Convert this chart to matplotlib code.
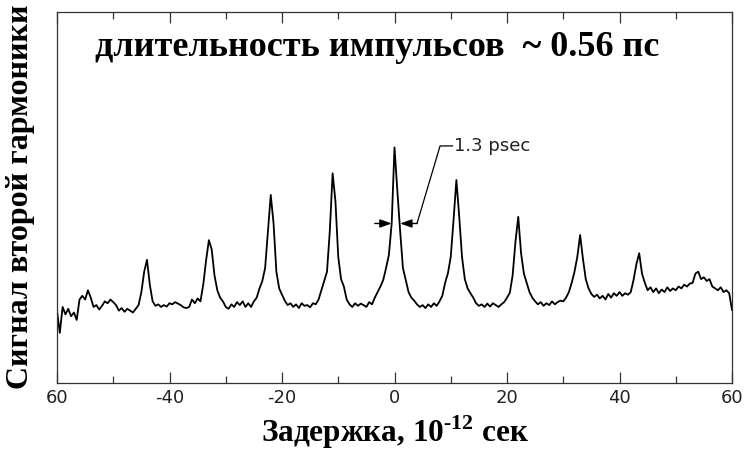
import numpy as np
import matplotlib.pyplot as plt

plt.rcParams['mathtext.fontset'] = 'custom'
plt.rcParams['mathtext.rm'] = 'Liberation Serif:bold'
plt.rcParams['mathtext.bf'] = 'Liberation Serif:bold'

# autocorrelation trace, every 0.5 ps
delay_ps = np.arange(-60.0, 60.01, 0.5)
shg_signal = [
    1.95, 1.35, 2.05, 1.85, 2.00, 1.80, 1.90, 1.70, 2.25, 2.35,   # -60 .. -55.5
    2.25, 2.50, 2.30, 2.05, 2.10, 1.98, 2.08, 2.20, 2.15, 2.25,   # -55 .. -50.5
    2.18, 2.10, 1.95, 2.02, 1.92, 2.00, 1.95, 1.90, 2.00, 2.10,   # -50 .. -45.5
    2.45, 3.00, 3.32, 2.65, 2.20, 2.08, 2.12, 2.05, 2.10, 2.06,   # -45 .. -40.5
    2.15, 2.12, 2.18, 2.14, 2.10, 2.04, 2.02, 2.05, 2.25, 2.15,   # -40 .. -35.5
    2.28, 2.20, 2.65, 3.30, 3.85, 3.60, 2.90, 2.50, 2.30, 2.20,   # -35 .. -30.5
    2.05, 2.00, 2.12, 2.05, 2.18, 2.10, 2.20, 2.05, 2.15, 2.05,   # -30 .. -25.5
    2.20, 2.30, 2.55, 2.75, 3.10, 4.10, 5.07, 4.30, 3.00, 2.55,   # -25 .. -20.5
    2.38, 2.22, 2.10, 2.15, 2.05, 2.12, 2.02, 2.15, 2.08, 2.10,   # -20 .. -15.5
    2.04, 2.15, 2.12, 2.25, 2.50, 2.75, 3.00, 4.10, 5.65, 4.90,   # -15 .. -10.5
    3.40, 2.80, 2.60, 2.25, 2.12, 2.05, 2.15, 2.08, 2.14, 2.10,   # -10 .. -5.5
    2.05, 2.18, 2.12, 2.30, 2.45, 2.60, 2.78, 3.10, 3.45, 4.30,   # -5 .. -0.5
    6.35, 5.20, 4.10, 3.10, 2.78, 2.45, 2.30, 2.22, 2.12, 2.05,   # 0 .. 4.5
    2.10, 2.02, 2.12, 2.05, 2.15, 2.08, 2.20, 2.35, 2.70, 2.96,   # 5 .. 9.5
    3.40, 4.40, 5.47, 4.50, 3.40, 2.80, 2.55, 2.42, 2.30, 2.15,   # 10 .. 14.5
    2.08, 2.12, 2.05, 2.14, 2.06, 2.15, 2.10, 2.05, 2.12, 2.18,   # 15 .. 19.5
    2.30, 2.43, 2.90, 3.80, 4.48, 3.50, 2.95, 2.70, 2.45, 2.30,   # 20 .. 24.5
    2.20, 2.12, 2.18, 2.08, 2.15, 2.10, 2.20, 2.12, 2.18, 2.22,   # 25 .. 29.5
    2.20, 2.30, 2.45, 2.70, 3.00, 3.40, 3.99, 3.35, 2.80, 2.55,   # 30 .. 34.5
    2.40, 2.32, 2.38, 2.28, 2.35, 2.25, 2.40, 2.30, 2.42, 2.35,   # 35 .. 39.5
    2.45, 2.35, 2.42, 2.38, 2.45, 2.78, 3.20, 3.50, 2.95, 2.70,   # 40 .. 44.5
    2.50, 2.58, 2.45, 2.55, 2.42, 2.52, 2.45, 2.58, 2.48, 2.55,   # 45 .. 49.5
    2.50, 2.60, 2.55, 2.65, 2.60, 2.68, 2.70, 2.95, 3.00, 2.80,   # 50 .. 54.5
    2.85, 2.75, 2.80, 2.60, 2.55, 2.50, 2.58, 2.45, 2.50, 2.42, 1.97,  # 55 .. 60
]

major_ticks = [-60, -40, -20, 0, 20, 40, 60]
major_labels = ['60', '-40', '-20', '0', '20', '40', '60']
minor_ticks = [-50, -30, -10, 10, 30, 50]

# width marker of the central peak
fwhm_level = 4.30
fwhm_left, fwhm_right = -0.5, 1.0
leader_x = [4.0, 8.1, 10.3]
leader_y = [4.30, 6.39, 6.39]

serif = 'Liberation Serif'

fig = plt.figure(figsize=(7.45, 4.51), dpi=100)
ax = fig.add_axes([57 / 745, 68 / 451, 675 / 745, 371 / 451])

ax.plot(delay_ps, shg_signal, color='black', lw=1.3)

ax.set_xlim(-60, 60)
ax.set_ylim(0, 10)
ax.set_yticks([])
ax.set_xticks(major_ticks)
ax.set_xticklabels(major_labels)
ax.set_xticks(minor_ticks, minor=True)
ax.tick_params(axis='x', which='both', direction='in', top=True, bottom=True,
               labelsize=13, labelcolor='#222222', color='#333333', pad=4.5)
ax.tick_params(axis='x', which='major', length=8, width=0.9)
ax.tick_params(axis='x', which='minor', length=5, width=0.9)
for s in ax.spines.values():
    s.set_linewidth(0.9)
    s.set_color('#333333')

arrow = dict(arrowstyle='-|>,head_length=0.7,head_width=0.25', color='black',
             lw=1.0, shrinkA=0, shrinkB=0)
ax.annotate('', xy=(fwhm_left, fwhm_level), xytext=(fwhm_left - 3.0, fwhm_level), arrowprops=arrow)
ax.annotate('', xy=(fwhm_right, fwhm_level), xytext=(fwhm_right + 3.0, fwhm_level), arrowprops=arrow)
ax.plot(leader_x, leader_y, color='black', lw=0.9)
ax.text(10.5, 6.39, '1.3 psec', fontsize=13, color='#222222', va='center', ha='left')

fig.text(95 / 745, 1 - 48 / 451, 'длительность импульсов  ~ 0.56 пс',
         fontfamily=serif, fontweight='bold', fontsize=26, va='center', ha='left')
fig.text(21 / 745, 1 - 197 / 451, 'Сигнал второй гармоники', rotation=90,
         fontfamily=serif, fontweight='bold', fontsize=23, va='center', ha='center')
fig.text(395 / 745, 1 - 432 / 451, 'Задержка, 10$^{\u201012}$ сек',
         fontfamily=serif, fontweight='bold', fontsize=22.5, va='center', ha='center')

fig.savefig('out.png', dpi=100)
